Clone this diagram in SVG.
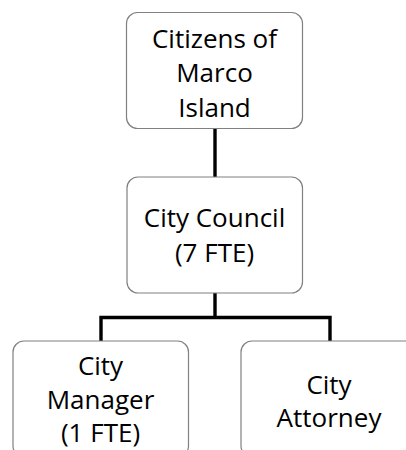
<svg xmlns="http://www.w3.org/2000/svg" width="406" height="450" viewBox="0 0 406 450">
  <style>
    .box { fill: #ffffff; stroke: #808080; stroke-width: 1.2; }
    .label { font-family: "Open Sans", "Liberation Sans", sans-serif; font-size: 26px; fill: #000000; text-anchor: middle; }
    .link { fill: none; stroke: #000000; stroke-width: 3.4; stroke-linecap: butt; stroke-linejoin: miter; }
  </style>
  <rect width="406" height="450" fill="#ffffff"/>

  <!-- connectors -->
  <g id="connectors">
    <path class="link" d="M215,128.5 V177"/>
    <path class="link" d="M215,293 V317.5 M101,341 V317.5 H330 V341"/>
  </g>

  <g id="citizens">
    <rect class="box" x="126.5" y="12.5" width="176" height="116" rx="11"/>
    <text class="label" x="214.5" y="47.5">Citizens of</text>
    <text class="label" x="214.5" y="82">Marco</text>
    <text class="label" x="214.5" y="116.5">Island</text>
  </g>

  <g id="council">
    <rect class="box" x="127" y="177" width="175.5" height="116" rx="11"/>
    <text class="label" x="214.5" y="227">City Council</text>
    <text class="label" x="214.5" y="262">(7 FTE)</text>
  </g>

  <g id="manager">
    <rect class="box" x="13" y="341" width="175.5" height="116" rx="11"/>
    <text class="label" x="100.5" y="375">City</text>
    <text class="label" x="100.5" y="409">Manager</text>
    <text class="label" x="100.5" y="442">(1 FTE)</text>
  </g>

  <g id="attorney">
    <rect class="box" x="241" y="341" width="175.5" height="116" rx="11"/>
    <text class="label" x="329" y="394">City</text>
    <text class="label" x="329" y="426.5">Attorney</text>
  </g>
</svg>
